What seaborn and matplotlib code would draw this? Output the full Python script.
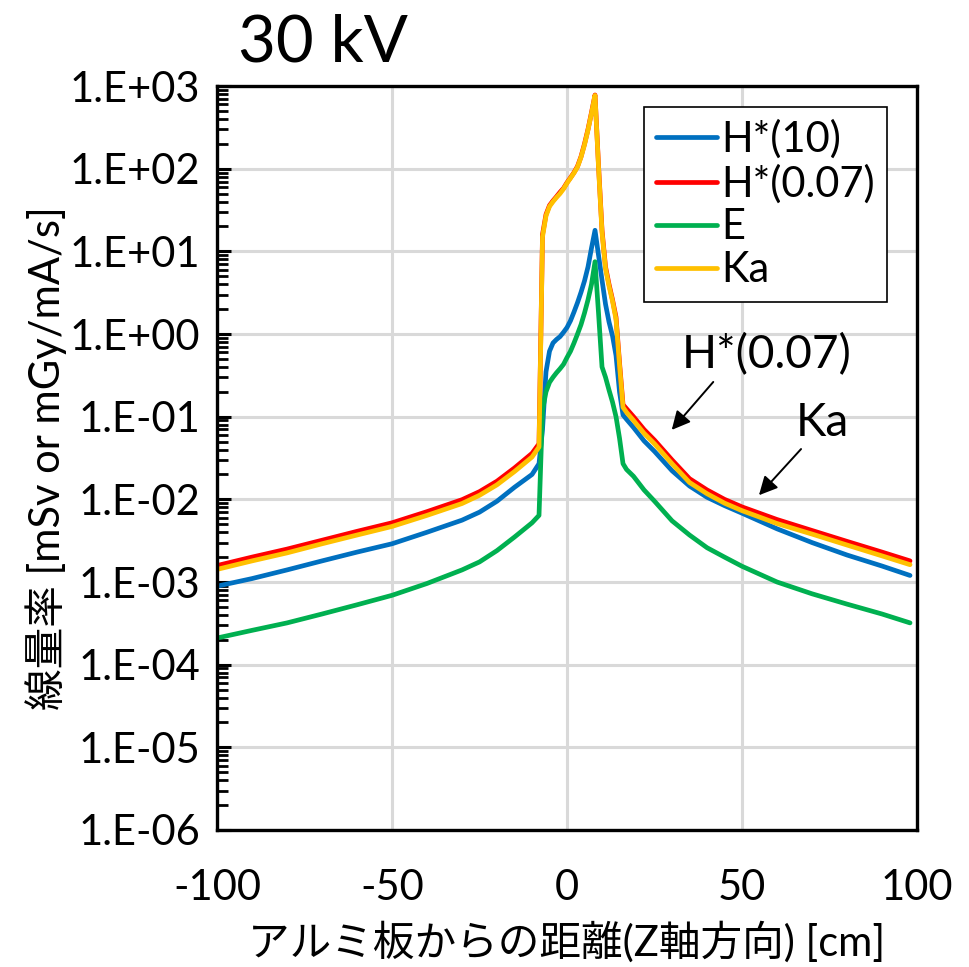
import numpy as np
import pandas as pd
import matplotlib
matplotlib.use("Agg")
import matplotlib.pyplot as plt
from matplotlib.ticker import FixedLocator, FuncFormatter, LogLocator, NullFormatter
import seaborn as sns

# distance along the Z axis from the aluminium plate [cm]
distance_cm = [-100, -90, -80, -70, -60, -50, -40, -30, -25, -20, -15, -10, -8,
               -7, -6, -5, -4, -3, -2, -1, 0, 1, 2, 3, 4, 5, 6, 7, 8,
               9, 10, 11, 12, 13, 14, 15, 16, 17, 19, 22, 25, 30, 35, 40, 45,
               50, 60, 70, 80, 90, 98]

# dose rates [mSv or mGy / mA / s]
h10 = [0.00089, 0.0011, 0.0014, 0.0018, 0.0023, 0.0029, 0.0040, 0.0056, 0.0070, 0.0095, 0.0140, 0.020, 0.027,
       0.07, 0.35, 0.62, 0.78, 0.86, 0.93, 1.05, 1.2, 1.45, 1.85, 2.4, 3.2, 4.4, 6.5, 11, 18,
       9, 4.5, 2.3, 1.4, 0.95, 0.55, 0.2, 0.105, 0.093, 0.074, 0.051, 0.038, 0.0222, 0.0145, 0.0106, 0.0084,
       0.0068, 0.0044, 0.0030, 0.00212, 0.00156, 0.0012]

h007 = [0.00158, 0.0020, 0.0025, 0.0032, 0.0041, 0.0052, 0.0071, 0.0099, 0.0124, 0.0166, 0.024, 0.036, 0.047,
        16, 28, 36, 41, 46, 52, 58, 68, 78, 90, 107, 140, 200, 300, 480, 780,
        110, 18, 6.5, 4.0, 2.6, 1.6, 0.45, 0.14, 0.125, 0.10, 0.070, 0.052, 0.030, 0.0178, 0.0130, 0.0100,
        0.0081, 0.0057, 0.0042, 0.0031, 0.0023, 0.0018]

eff = [0.00021, 0.00026, 0.00032, 0.00041, 0.00053, 0.00069, 0.00096, 0.00140, 0.00175, 0.0024, 0.0035, 0.0052, 0.0064,
       0.12, 0.20, 0.26, 0.30, 0.34, 0.38, 0.43, 0.52, 0.62, 0.78, 1.0, 1.3, 1.8, 2.6, 4.0, 7.5,
       1.8, 0.40, 0.30, 0.21, 0.15, 0.10, 0.055, 0.027, 0.023, 0.019, 0.0130, 0.0095, 0.0055, 0.0037, 0.0026, 0.0020,
       0.00155, 0.00100, 0.00072, 0.00054, 0.00041, 0.00032]

ka = [0.00142, 0.0018, 0.00225, 0.0029, 0.0037, 0.0047, 0.0064, 0.0089, 0.0112, 0.0150, 0.0217, 0.0325, 0.043,
      15, 27, 35, 40, 45, 50, 57, 67, 77, 89, 105, 138, 195, 295, 470, 770,
      105, 17, 6.2, 3.8, 2.5, 1.5, 0.42, 0.13, 0.113, 0.090, 0.063, 0.047, 0.027, 0.0160, 0.0117, 0.0090,
      0.0073, 0.0051, 0.0038, 0.0028, 0.00207, 0.00162]

series_names = ["H*(10)", "H*(0.07)", "E", "Ka"]
series_values = [h10, h007, eff, ka]
series_colors = ["#0070C0", "#FF0000", "#00B050", "#FFC000"]

y_exponents = [-6, -5, -4, -3, -2, -1, 0, 1, 2, 3]
x_ticks = [-100, -50, 0, 50, 100]

frames = [pd.DataFrame({"z": distance_cm, "rate": vals, "series": name})
          for name, vals in zip(series_names, series_values)]
df = pd.concat(frames, ignore_index=True)

sns.set_style("white")
plt.rcParams["font.family"] = ["Lato", "Noto Sans CJK JP", "DejaVu Sans"]
plt.rcParams["axes.unicode_minus"] = False
plt.rcParams["text.color"] = "black"
plt.rcParams["axes.labelcolor"] = "black"
plt.rcParams["xtick.color"] = "black"
plt.rcParams["ytick.color"] = "black"

fig = plt.figure(figsize=(9.70, 9.67), dpi=100)
ax = fig.add_axes([0.2237, 0.1417, 0.7217, 0.7693])

sns.lineplot(data=df, x="z", y="rate", hue="series", hue_order=series_names,
             palette=series_colors, sort=False, estimator=None, linewidth=3.4,
             ax=ax, legend=True)

ax.set_yscale("log")
ax.set_xlim(-100, 100)
ax.set_ylim(1e-6, 1e3)

ax.yaxis.set_major_locator(FixedLocator([10.0 ** e for e in y_exponents]))
ax.yaxis.set_major_formatter(FuncFormatter(lambda v, p: "1.E{:+03d}".format(int(round(np.log10(v))))))
ax.yaxis.set_minor_locator(LogLocator(base=10, subs=np.arange(2, 10)))
ax.yaxis.set_minor_formatter(NullFormatter())
ax.xaxis.set_major_locator(FixedLocator(x_ticks))

ax.grid(True, which="major", color="#D9D9D9", linewidth=2.2)
ax.set_axisbelow(True)
ax.tick_params(axis="y", which="major", direction="in", length=10, width=2.2,
               labelsize=30, pad=12, left=True, colors="black")
ax.tick_params(axis="y", which="minor", direction="in", length=8, width=2.0, left=True, colors="black")
ax.tick_params(axis="x", which="major", length=0, labelsize=30, pad=28, colors="black")
for side in ["left", "right", "top", "bottom"]:
    ax.spines[side].set_visible(True)
    ax.spines[side].set_color("black")
    ax.spines[side].set_linewidth(2.4)

ax.set_xlabel("アルミ板からの距離(Z軸方向) [cm]", fontsize=30, labelpad=10, color="black")
ax.set_ylabel("線量率 [mSv or mGy/mA/s]", fontsize=30, labelpad=2, color="black")
ax.set_title("30 kV", fontsize=47, loc="left", x=0.03, pad=18, color="black")

leg = ax.legend(loc="upper right", bbox_to_anchor=(0.957, 0.972), borderaxespad=0,
                fontsize=30, frameon=True, fancybox=False, edgecolor="black",
                framealpha=1, handlelength=1.45, handletextpad=0.1,
                labelspacing=0.12, borderpad=0.3, title=None)
leg.get_frame().set_linewidth(1.2)
for line in leg.get_lines():
    line.set_linewidth(3.4)
for txt in leg.get_texts():
    txt.set_color("black")

ax.text(57.0, 0.56, "H*(0.07)", fontsize=33, ha="center", va="center", color="black")
ax.annotate("", xy=(29.4, 0.0653), xytext=(42.3, 0.279),
            arrowprops=dict(arrowstyle="-|>", color="black", lw=1.4, mutation_scale=28))
ax.text(73.0, 0.084, "Ka", fontsize=33, ha="center", va="center", color="black")
ax.annotate("", xy=(54.3, 0.0106), xytext=(67.4, 0.043),
            arrowprops=dict(arrowstyle="-|>", color="black", lw=1.4, mutation_scale=28))

fig.savefig("out.png", dpi=100)
